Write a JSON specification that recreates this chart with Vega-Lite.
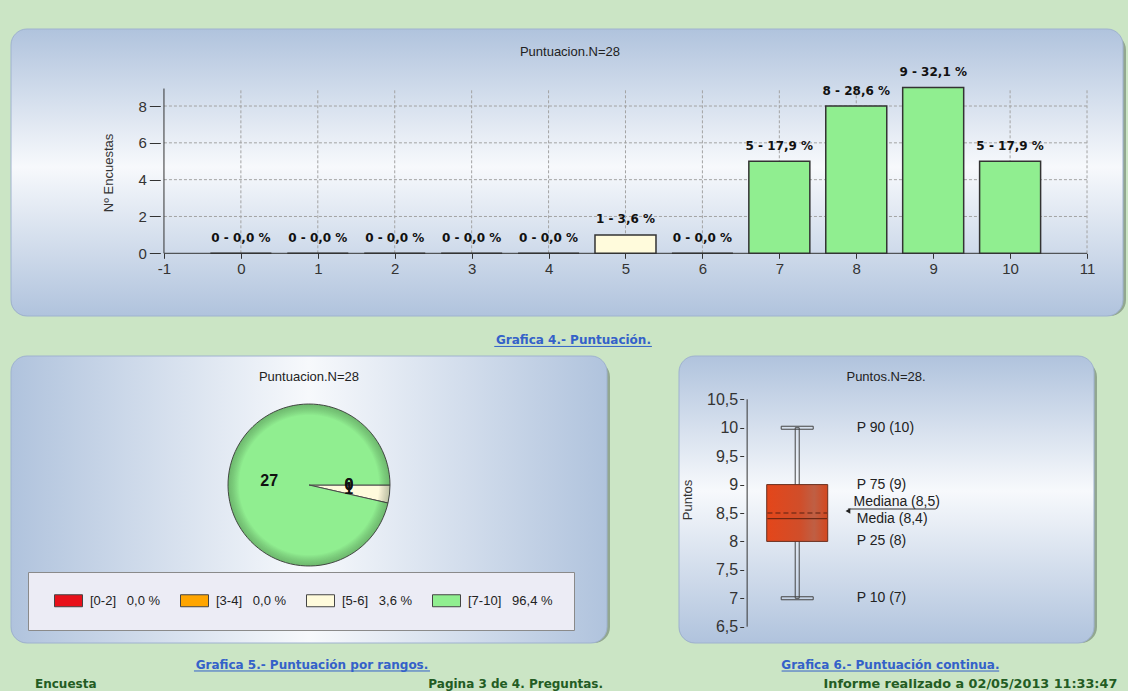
{
  "$schema": "https://vega.github.io/schema/vega-lite/v6.json",
  "background": "#cbe5c5",
  "padding": {"left": 10, "top": 28, "right": 2, "bottom": 2},
  "config": {
    "view": {"stroke": null},
    "font": "Liberation Sans"
  },
  "datasets": {
    "barras": [
      {"puntuacion": 0, "encuestas": 0, "rango": "[0-2]", "etiqueta": "0 - 0,0 %"},
      {"puntuacion": 1, "encuestas": 0, "rango": "[0-2]", "etiqueta": "0 - 0,0 %"},
      {"puntuacion": 2, "encuestas": 0, "rango": "[0-2]", "etiqueta": "0 - 0,0 %"},
      {"puntuacion": 3, "encuestas": 0, "rango": "[3-4]", "etiqueta": "0 - 0,0 %"},
      {"puntuacion": 4, "encuestas": 0, "rango": "[3-4]", "etiqueta": "0 - 0,0 %"},
      {"puntuacion": 5, "encuestas": 1, "rango": "[5-6]", "etiqueta": "1 - 3,6 %"},
      {"puntuacion": 6, "encuestas": 0, "rango": "[5-6]", "etiqueta": "0 - 0,0 %"},
      {"puntuacion": 7, "encuestas": 5, "rango": "[7-10]", "etiqueta": "5 - 17,9 %"},
      {"puntuacion": 8, "encuestas": 8, "rango": "[7-10]", "etiqueta": "8 - 28,6 %"},
      {"puntuacion": 9, "encuestas": 9, "rango": "[7-10]", "etiqueta": "9 - 32,1 %"},
      {"puntuacion": 10, "encuestas": 5, "rango": "[7-10]", "etiqueta": "5 - 17,9 %"}
    ],
    "rejilla_x": [{"v": 0}, {"v": 1}, {"v": 2}, {"v": 3}, {"v": 4}, {"v": 5}, {"v": 6}, {"v": 7}, {"v": 8}, {"v": 9}, {"v": 10}, {"v": 11}],
    "rejilla_y": [{"v": 2}, {"v": 4}, {"v": 6}, {"v": 8}],
    "rangos": [
      {"rango": "[0-2]", "n": 0, "leyenda": "[0-2]\u00a0\u00a0\u00a00,0 %"},
      {"rango": "[3-4]", "n": 0, "leyenda": "[3-4]\u00a0\u00a0\u00a00,0 %"},
      {"rango": "[5-6]", "n": 1, "leyenda": "[5-6]\u00a0\u00a0\u00a03,6 %"},
      {"rango": "[7-10]", "n": 27, "leyenda": "[7-10]\u00a0\u00a0\u00a096,4 %"}
    ],
    "estadisticos": [{"p10": 7, "p25": 8, "mediana": 8.5, "media": 8.4, "p75": 9, "p90": 10}],
    "etiquetas_caja": [
      {"texto": "P 90 (10)", "valor": 10},
      {"texto": "P 75 (9)", "valor": 9},
      {"texto": "Media (8,4)", "valor": 8.4},
      {"texto": "P 25 (8)", "valor": 8},
      {"texto": "P 10 (7)", "valor": 7}
    ]
  },
  "bounds": "flush",
  "spacing": 40,
  "resolve": {"scale": {"color": "independent", "fill": "independent"}, "legend": {"color": "independent", "fill": "independent"}},
  "vconcat": [
    {
      "width": 1112,
      "height": 287,
      "layer": [
        {"data": {"values": [{}]}, "mark": {"type": "rect", "fill": "#6c7d6c", "opacity": 0.6, "cornerRadius": 16, "xOffset": 3, "yOffset": 5}},
        {"data": {"values": [{}]}, "mark": {"type": "rect", "cornerRadius": 16, "stroke": "#9fb2cf", "strokeWidth": 1,
          "fill": {"gradient": "linear", "x1": 0, "y1": 0, "x2": 0, "y2": 1, "stops": [{"offset": 0, "color": "#b0c3dd"}, {"offset": 0.48, "color": "#f7f9fc"}, {"offset": 1, "color": "#b0c3dd"}]}}},
        {"data": {"name": "rejilla_x"}, "mark": {"type": "rule", "stroke": "#a3a3a3", "strokeDash": [3, 2], "strokeWidth": 1},
          "encoding": {
            "x": {"field": "v", "type": "quantitative", "scale": {"domain": [-2.9235, 11.4026], "nice": false, "zero": false},
              "axis": {"values": [-1, 0, 1, 2, 3, 4, 5, 6, 7, 8, 9, 10, 11], "tickCount": 40, "labelExpr": "'' + datum.value", "offset": -62.7, "domain": false, "grid": false, "tickSize": 5, "tickColor": "#333", "labelFont": "Liberation Sans", "labelFontSize": 15, "labelColor": "#333", "labelPadding": 3, "labelFlush": false, "labelOverlap": false, "title": null, "zindex": 2}},
            "y": {"datum": 0, "type": "quantitative", "scale": {"domain": [-3.406, 12.184], "nice": false, "zero": false},
              "axis": {"values": [0, 2, 4, 6, 8], "tickCount": 40, "labelExpr": "'' + datum.value", "offset": -149.3, "domain": false, "grid": false, "tickSize": 11, "tickColor": "#333", "labelFont": "Liberation Sans", "labelFontSize": 15, "labelColor": "#333", "labelPadding": 3, "labelOverlap": false, "title": "Nº Encuestas", "titleFont": "Liberation Sans", "titleFontSize": 13, "titleFontWeight": "normal", "titleColor": "#333", "titlePadding": 22, "zindex": 2}},
            "y2": {"datum": 8.95}
          }},
        {"data": {"name": "rejilla_y"}, "mark": {"type": "rule", "stroke": "#a3a3a3", "strokeDash": [3, 2], "strokeWidth": 1},
          "encoding": {"y": {"field": "v", "type": "quantitative"}, "x": {"datum": -1, "type": "quantitative"}, "x2": {"datum": 11}}},
        {"data": {"values": [{}]}, "mark": {"type": "rule", "stroke": "#333", "strokeWidth": 1},
          "encoding": {"y": {"datum": 0, "type": "quantitative"}, "x": {"datum": -1, "type": "quantitative"}, "x2": {"datum": 11}}},
        {"data": {"values": [{}]}, "mark": {"type": "rule", "stroke": "#333", "strokeWidth": 1},
          "encoding": {"x": {"datum": -1, "type": "quantitative"}, "y": {"datum": 0, "type": "quantitative"}, "y2": {"datum": 8.95}}},
        {"data": {"name": "barras"}, "mark": {"type": "bar", "width": 61, "stroke": "#333", "strokeWidth": 1.5, "orient": "vertical"},
          "encoding": {
            "x": {"field": "puntuacion", "type": "quantitative"},
            "y": {"field": "encuestas", "type": "quantitative"},
            "y2": {"datum": 0},
            "fill": {"field": "rango", "type": "nominal", "scale": {"domain": ["[0-2]", "[3-4]", "[5-6]", "[7-10]"], "range": ["#e8101a", "#ffa500", "#fffbdc", "#90ee90"]}, "legend": null}
          }},
        {"data": {"name": "barras"}, "mark": {"type": "text", "font": "DejaVu Sans", "fontSize": 12, "fontWeight": "bold", "color": "#111", "baseline": "middle", "dy": -15.5},
          "encoding": {
            "x": {"field": "puntuacion", "type": "quantitative"},
            "y": {"field": "encuestas", "type": "quantitative"},
            "text": {"field": "etiqueta"}
          }},
        {"data": {"values": [{}]}, "mark": {"type": "text", "text": "Puntuacion.N=28", "font": "Liberation Sans", "fontSize": 13, "color": "#222", "baseline": "middle"},
          "encoding": {"x": {"datum": 4.278, "type": "quantitative"}, "y": {"datum": 10.93, "type": "quantitative"}}},
        {"data": {"values": [{}]}, "mark": {"type": "text", "text": "Grafica 4.- Puntuación.", "font": "DejaVu Sans", "fontSize": 12, "fontWeight": "bold", "color": "#3461c9", "baseline": "middle"},
          "encoding": {"x": {"datum": 4.323, "type": "quantitative"}, "y": {"datum": -4.71, "type": "quantitative"}}},
        {"data": {"values": [{}]}, "mark": {"type": "rule", "stroke": "#3461c9", "strokeWidth": 1},
          "encoding": {"x": {"datum": 3.294, "type": "quantitative"}, "x2": {"datum": 5.343}, "y": {"datum": -5.06, "type": "quantitative"}}}
      ]
    },
    {
      "hconcat": [
        {
          "width": 596,
          "height": 287,
          "layer": [
            {"data": {"values": [{}]}, "mark": {"type": "rect", "fill": "#6c7d6c", "opacity": 0.6, "cornerRadius": 16, "xOffset": 3, "yOffset": 5}},
            {"data": {"values": [{}]}, "mark": {"type": "rect", "cornerRadius": 16, "stroke": "#9fb2cf", "strokeWidth": 1,
              "fill": {"gradient": "linear", "x1": 0, "y1": 0, "x2": 1, "y2": 0, "stops": [{"offset": 0, "color": "#b0c3dd"}, {"offset": 0.5, "color": "#f7f9fc"}, {"offset": 1, "color": "#b0c3dd"}]}}},
            {"data": {"name": "rangos"}, "mark": {"type": "arc", "radius": 81, "stroke": "#4a4a4a", "strokeWidth": 1},
              "encoding": {
                "x": {"datum": 0.5, "type": "quantitative", "scale": {"domain": [0, 1], "nice": false, "zero": false}, "axis": null},
                "y": {"datum": 0.5505, "type": "quantitative", "scale": {"domain": [0, 1], "nice": false, "zero": false}, "axis": null},
                "theta": {"field": "n", "type": "quantitative", "stack": true, "scale": {"range": [1.5707963, 7.8539816]}},
                "order": {"field": "leyenda", "sort": "ascending"},
                "color": {"field": "leyenda", "type": "nominal",
                  "scale": {"domain": ["[0-2]\u00a0\u00a0\u00a00,0 %", "[3-4]\u00a0\u00a0\u00a00,0 %", "[5-6]\u00a0\u00a0\u00a03,6 %", "[7-10]\u00a0\u00a0\u00a096,4 %"], "range": ["#e8101a", "#ffa500", "#fffbdc", "#90ee90"]},
                  "legend": {"orient": "none", "legendX": 17, "legendY": 216, "direction": "horizontal", "title": null, "fillColor": "#ececf5", "strokeColor": "#8a8a8a", "padding": 21,
                    "symbolType": "M-2,-0.857h4v1.714h-4z", "symbolSize": 196, "symbolStrokeColor": "#444", "symbolStrokeWidth": 1, "symbolOffset": 12, "labelOffset": 14,
                    "labelFont": "Liberation Sans", "labelFontSize": 13, "labelColor": "#222", "columnPadding": 14, "labelLimit": 300, "zindex": 2}}
              }},
            {"data": {"values": [{}]}, "mark": {"type": "arc", "radius": 81, "theta": 0, "theta2": 6.2832,
              "fill": {"gradient": "radial", "x1": 0.5, "y1": 0.5, "r1": 0, "x2": 0.5, "y2": 0.5, "r2": 0.5, "stops": [{"offset": 0, "color": "rgba(0,0,0,0)"}, {"offset": 0.86, "color": "rgba(0,0,0,0)"}, {"offset": 1, "color": "rgba(30,60,30,0.3)"}]}},
              "encoding": {"x": {"datum": 0.5, "type": "quantitative"}, "y": {"datum": 0.5505, "type": "quantitative"}}},
            {"data": {"name": "rangos"}, "mark": {"type": "text", "radius": 40, "font": "Liberation Sans", "fontSize": 16, "fontWeight": "bold", "color": "#111", "baseline": "middle"},
              "encoding": {
                "x": {"datum": 0.5, "type": "quantitative"},
                "y": {"datum": 0.5505, "type": "quantitative"},
                "theta": {"field": "n", "type": "quantitative", "stack": true},
                "order": {"field": "leyenda", "sort": "ascending"},
                "text": {"field": "n"}
              }},
            {"data": {"values": [{}]}, "mark": {"type": "text", "text": "Puntuacion.N=28", "font": "Liberation Sans", "fontSize": 13, "color": "#222", "baseline": "middle"},
              "encoding": {"x": {"datum": 0.5, "type": "quantitative"}, "y": {"datum": 0.9268, "type": "quantitative"}}},
            {"data": {"values": [{}]}, "mark": {"type": "text", "text": "Grafica 5.- Puntuación por rangos.", "font": "DejaVu Sans", "fontSize": 12, "fontWeight": "bold", "color": "#3461c9", "baseline": "middle"},
              "encoding": {"x": {"datum": 0.505, "type": "quantitative"}, "y": {"datum": -0.0767, "type": "quantitative"}}},
            {"data": {"values": [{}]}, "mark": {"type": "rule", "stroke": "#3461c9", "strokeWidth": 1},
              "encoding": {"x": {"datum": 0.307, "type": "quantitative"}, "x2": {"datum": 0.703}, "y": {"datum": -0.0975, "type": "quantitative"}}},
            {"data": {"values": [{}]}, "mark": {"type": "text", "text": "Encuesta", "font": "DejaVu Sans", "fontSize": 12, "fontWeight": "bold", "color": "#235c23", "baseline": "middle", "align": "left"},
              "encoding": {"x": {"datum": 0.0403, "type": "quantitative"}, "y": {"datum": -0.1429, "type": "quantitative"}}},
            {"data": {"values": [{}]}, "mark": {"type": "text", "text": "Pagina 3 de 4. Preguntas.", "font": "DejaVu Sans", "fontSize": 12, "fontWeight": "bold", "color": "#235c23", "baseline": "middle", "align": "right"},
              "encoding": {"x": {"datum": 0.9933, "type": "quantitative"}, "y": {"datum": -0.1429, "type": "quantitative"}}}
          ]
        },
        {
          "width": 415,
          "height": 287,
          "layer": [
            {"data": {"values": [{}]}, "mark": {"type": "rect", "fill": "#6c7d6c", "opacity": 0.6, "cornerRadius": 16, "xOffset": 3, "yOffset": 5}},
            {"data": {"values": [{}]}, "mark": {"type": "rect", "cornerRadius": 16, "stroke": "#9fb2cf", "strokeWidth": 1,
              "fill": {"gradient": "linear", "x1": 0, "y1": 0, "x2": 0, "y2": 1, "stops": [{"offset": 0, "color": "#b0c3dd"}, {"offset": 0.47, "color": "#f7f9fc"}, {"offset": 1, "color": "#b0c3dd"}]}}},
            {"data": {"values": [{}]}, "mark": {"type": "rule", "stroke": "#333", "strokeWidth": 1},
              "encoding": {
                "x": {"datum": -0.841, "type": "quantitative", "scale": {"domain": [-1.9016, 4.9016], "nice": false, "zero": false}, "axis": null},
                "y": {"datum": 6.5, "type": "quantitative", "scale": {"domain": [6.213, 11.262], "nice": false, "zero": false},
                  "axis": {"orient": "left", "offset": -64.7, "values": [6.5, 7, 7.5, 8, 8.5, 9, 9.5, 10, 10.5], "tickCount": 40, "labelExpr": "replace('' + datum.value, '.', ',')", "domain": false, "grid": false, "tickSize": 4, "tickColor": "#333", "labelFont": "Liberation Sans", "labelFontSize": 16, "labelColor": "#333", "labelPadding": 2, "labelOverlap": false, "labelFlush": false, "labelBound": false, "title": "Puntos", "titleFont": "Liberation Sans", "titleFontSize": 13, "titleFontWeight": "normal", "titleColor": "#333", "titlePadding": 12, "zindex": 2}},
                "y2": {"datum": 10.5}
              }},
            {"data": {"name": "estadisticos"}, "mark": {"type": "bar", "width": 4, "fill": "#ffffff", "fillOpacity": 0, "stroke": "#444", "strokeWidth": 1},
              "encoding": {"x": {"datum": 0, "type": "quantitative"}, "y": {"field": "p10", "type": "quantitative"}, "y2": {"field": "p90"}}},
            {"data": {"name": "estadisticos"}, "mark": {"type": "tick", "orient": "horizontal", "size": 32, "thickness": 3, "fill": "#ffffff", "fillOpacity": 0, "stroke": "#444", "strokeWidth": 1},
              "encoding": {"x": {"datum": 0, "type": "quantitative"}, "y": {"field": "p10", "type": "quantitative"}}},
            {"data": {"name": "estadisticos"}, "mark": {"type": "tick", "orient": "horizontal", "size": 32, "thickness": 3, "fill": "#ffffff", "fillOpacity": 0, "stroke": "#444", "strokeWidth": 1},
              "encoding": {"x": {"datum": 0, "type": "quantitative"}, "y": {"field": "p90", "type": "quantitative"}}},
            {"data": {"name": "estadisticos"}, "mark": {"type": "bar", "width": 61, "stroke": "#6a3020", "strokeWidth": 1,
              "fill": {"gradient": "linear", "x1": 0, "y1": 0, "x2": 1, "y2": 0, "stops": [{"offset": 0, "color": "#e4461a"}, {"offset": 0.55, "color": "#d04e2a"}, {"offset": 0.78, "color": "#bf5f44"}, {"offset": 1, "color": "#d4471e"}]}},
              "encoding": {"x": {"datum": 0, "type": "quantitative"}, "y": {"field": "p25", "type": "quantitative"}, "y2": {"field": "p75"}}},
            {"data": {"name": "estadisticos"}, "mark": {"type": "rule", "stroke": "#5a2010", "strokeWidth": 1, "strokeDash": [5, 3]},
              "encoding": {"x": {"datum": -0.5, "type": "quantitative"}, "x2": {"datum": 0.5}, "y": {"field": "mediana", "type": "quantitative"}}},
            {"data": {"name": "estadisticos"}, "mark": {"type": "rule", "stroke": "#5a2010", "strokeWidth": 1},
              "encoding": {"x": {"datum": -0.5, "type": "quantitative"}, "x2": {"datum": 0.5}, "y": {"field": "media", "type": "quantitative"}}},
            {"data": {"name": "etiquetas_caja"}, "mark": {"type": "text", "font": "Liberation Sans", "fontSize": 14, "color": "#222", "align": "left", "baseline": "middle"},
              "encoding": {"x": {"datum": 1.0, "type": "quantitative"}, "y": {"field": "valor", "type": "quantitative"}, "text": {"field": "texto"}}},
            {"data": {"name": "estadisticos"}, "mark": {"type": "text", "text": "Mediana (8,5)", "font": "Liberation Sans", "fontSize": 14, "color": "#222", "align": "left", "baseline": "middle", "dy": -11},
              "encoding": {"x": {"datum": 0.946, "type": "quantitative"}, "y": {"field": "mediana", "type": "quantitative"}}},
            {"data": {"name": "estadisticos"}, "mark": {"type": "rule", "stroke": "#333", "strokeWidth": 1, "yOffset": -4},
              "encoding": {"x": {"datum": 0.852, "type": "quantitative"}, "x2": {"datum": 2.328}, "y": {"field": "mediana", "type": "quantitative"}}},
            {"data": {"name": "estadisticos"}, "mark": {"type": "point", "shape": "triangle-left", "size": 30, "filled": true, "color": "#222", "opacity": 1, "yOffset": -2},
              "encoding": {"x": {"datum": 0.852, "type": "quantitative"}, "y": {"field": "mediana", "type": "quantitative"}}},
            {"data": {"values": [{}]}, "mark": {"type": "text", "text": "Puntos.N=28.", "font": "Liberation Sans", "fontSize": 13, "color": "#222", "baseline": "middle"},
              "encoding": {"x": {"datum": 1.492, "type": "quantitative"}, "y": {"datum": 10.892, "type": "quantitative"}}},
            {"data": {"values": [{}]}, "mark": {"type": "text", "text": "Grafica 6.- Puntuación continua.", "font": "DejaVu Sans", "fontSize": 12, "fontWeight": "bold", "color": "#3461c9", "baseline": "middle"},
              "encoding": {"x": {"datum": 1.566, "type": "quantitative"}, "y": {"datum": 5.826, "type": "quantitative"}}},
            {"data": {"values": [{}]}, "mark": {"type": "rule", "stroke": "#3461c9", "strokeWidth": 1},
              "encoding": {"x": {"datum": -0.262, "type": "quantitative"}, "x2": {"datum": 3.393}, "y": {"datum": 5.72, "type": "quantitative"}}},
            {"data": {"values": [{}]}, "mark": {"type": "text", "text": "Informe realizado a 02/05/2013 11:33:47", "font": "DejaVu Sans", "fontSize": 12.8, "fontWeight": "bold", "color": "#235c23", "baseline": "middle", "align": "right"},
              "encoding": {"x": {"datum": 5.377, "type": "quantitative"}, "y": {"datum": 5.492, "type": "quantitative"}}}
          ]
        }
      ],
      "spacing": 72,
      "bounds": "flush",
      "resolve": {"scale": {"color": "independent"}, "legend": {"color": "independent"}}
    }
  ]
}
